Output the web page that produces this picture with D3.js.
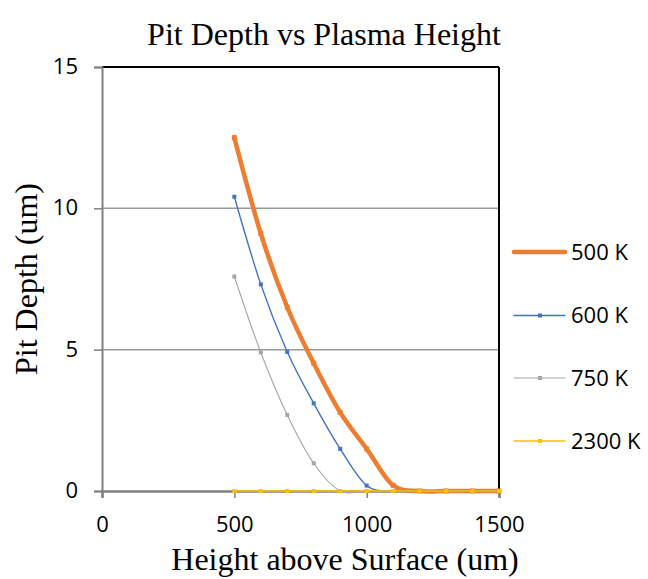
<!DOCTYPE html>
<html>
<head>
<meta charset="utf-8">
<script src="https://cdn.jsdelivr.net/npm/d3@7"></script>
<style>
  html, body { margin: 0; padding: 0; background: #fff; }
  svg { display: block; }
</style>
</head>
<body>
<div id="chart"></div>
<script>
// ---- data ----
const heights = [500, 600, 700, 800, 900, 1000, 1100, 1200, 1300, 1400, 1500];
const depth500K  = [12.5, 9.11, 6.5, 4.52, 2.78, 1.49, 0.2, 0, 0, 0, 0];
const depth600K  = [10.41, 7.31, 4.92, 3.1, 1.49, 0.19, 0, 0, 0, 0, 0];
const depth750K  = [7.59, 4.9, 2.69, 0.98, 0, 0, 0, 0, 0, 0, 0];
const depth2300K = [0, 0, 0, 0, 0, 0, 0, 0, 0, 0, 0];
const seriesNames = ["500 K", "600 K", "750 K", "2300 K"];
const xTicks = [0, 500, 1000, 1500];
const yTicks = [0, 5, 10, 15];
const titleText = "Pit Depth vs Plasma Height";
const xTitle = "Height above Surface (um)";
const yTitle = "Pit Depth (um)";

const W = 648, H = 579;
const svg = d3.select("#chart").append("svg").attr("width", W).attr("height", H);

const x = d3.scaleLinear().domain([0, 1500]).range([102, 499]);
const y = d3.scaleLinear().domain([0, 15]).range([491, 67]);

const styles = [
  { color: "#ED7D31", width: 4.5, marker: 5 },
  { color: "#4472C4", width: 1.4, marker: 4 },
  { color: "#A5A5A5", width: 1.1, marker: 4 },
  { color: "#FFC000", width: 1.4, marker: 4 }
];
const allSeries = [depth500K, depth600K, depth750K, depth2300K];

const sansFont = "'Open Sans', 'Liberation Sans', sans-serif";
const serifFont = "'Liberation Serif', 'DejaVu Serif', serif";

// gridlines
svg.append("g").selectAll("line").data([5, 10]).join("line")
  .attr("x1", x(0)).attr("x2", x(1500))
  .attr("y1", d => y(d)).attr("y2", d => y(d))
  .attr("stroke", "#9a9a9a").attr("stroke-width", 1.5);

// top and right border (black)
svg.append("line").attr("x1", x(0)).attr("x2", x(1500)).attr("y1", y(15)).attr("y2", y(15))
  .attr("stroke", "#000").attr("stroke-width", 2);
svg.append("line").attr("x1", x(1500)).attr("x2", x(1500)).attr("y1", y(15)).attr("y2", y(0))
  .attr("stroke", "#000").attr("stroke-width", 2);

// y axis
const yAxis = d3.axisLeft(y).tickValues(yTicks).tickSize(8).tickPadding(16).tickFormat(d3.format("d"));
const gy = svg.append("g").attr("transform", `translate(${x(0)},0)`).call(yAxis);
gy.select(".domain").attr("stroke", "#808080").attr("stroke-width", 2);
gy.selectAll(".tick line").attr("stroke", "#808080").attr("stroke-width", 1.5);
gy.selectAll(".tick text").attr("font-family", sansFont).attr("font-size", 22).attr("fill", "#000").attr("dy", "0.3em");

// x axis
const xAxis = d3.axisBottom(x).tickValues(xTicks).tickSize(7).tickPadding(18).tickFormat(d3.format("d"));
const gx = svg.append("g").attr("transform", `translate(0,${y(0)})`).call(xAxis);
gx.select(".domain").attr("stroke", "#808080").attr("stroke-width", 2.5);
gx.selectAll(".tick line").attr("stroke", "#808080").attr("stroke-width", 1.5);
gx.selectAll(".tick text").attr("font-family", sansFont).attr("font-size", 22).attr("fill", "#000");

// lines
const line = d3.line().x(d => x(d[0])).y(d => y(d[1])).curve(d3.curveCardinal.tension(0));
allSeries.forEach((vals, i) => {
  const pts = heights.map((h, j) => [h, vals[j]]);
  const st = styles[i];
  const g = svg.append("g");
  g.append("path").datum(pts).attr("d", line)
    .attr("fill", "none").attr("stroke", st.color).attr("stroke-width", st.width)
    .attr("stroke-linejoin", "round").attr("stroke-linecap", "round");
  g.selectAll("rect").data(pts).join("rect")
    .attr("x", d => x(d[0]) - st.marker / 2).attr("y", d => y(d[1]) - st.marker / 2)
    .attr("width", st.marker).attr("height", st.marker).attr("fill", st.color);
});

// legend
const legendY = [252, 315.5, 378, 441];
seriesNames.forEach((name, i) => {
  const st = styles[i];
  const g = svg.append("g");
  g.append("line").attr("x1", 514).attr("x2", 565).attr("y1", legendY[i]).attr("y2", legendY[i])
    .attr("stroke", st.color).attr("stroke-width", st.width).attr("stroke-linecap", "round");
  if (i > 0) {
    g.append("rect").attr("x", 540 - st.marker / 2).attr("y", legendY[i] - st.marker / 2)
      .attr("width", st.marker).attr("height", st.marker).attr("fill", st.color);
  }
  g.append("text").attr("x", 571).attr("y", legendY[i]).attr("dy", "0.36em")
    .attr("font-family", sansFont).attr("font-size", 22).attr("fill", "#000").text(name);
});

// titles
svg.append("text").attr("x", 324).attr("y", 45).attr("text-anchor", "middle")
  .attr("font-family", serifFont).attr("font-size", 32).attr("fill", "#000").text(titleText);
svg.append("text").attr("x", 345).attr("y", 570).attr("text-anchor", "middle")
  .attr("font-family", serifFont).attr("font-size", 32).attr("fill", "#000").text(xTitle);
svg.append("text").attr("transform", "translate(37,279) rotate(-90)").attr("text-anchor", "middle")
  .attr("font-family", serifFont).attr("font-size", 32).attr("fill", "#000").text(yTitle);
</script>
</body>
</html>
